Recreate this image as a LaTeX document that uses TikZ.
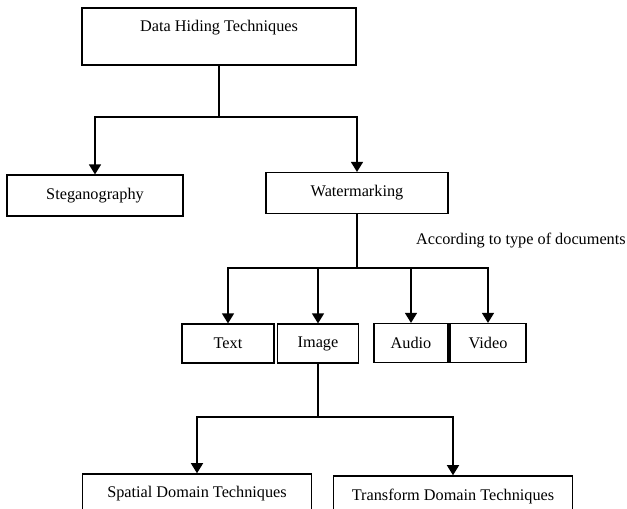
\documentclass[tikz,border=0pt]{standalone}
\usepackage{fontspec}
\setmainfont{Liberation Serif}
\usetikzlibrary{arrows.meta}
\tikzstyle{arrow} = [line width=0.9pt,-{Triangle[length=6.2pt,width=7.4pt]}]
\tikzstyle{wire} = [line width=0.9pt]
\tikzstyle{mainbox} = [rectangle, draw=black, line width=0.9pt, minimum width=168.5pt, minimum height=35.1pt, text depth=13pt, inner sep=0pt]
\tikzstyle{classbox} = [rectangle, draw=black, line width=0.9pt, minimum height=25pt, inner sep=0pt]
\tikzstyle{docbox} = [rectangle, draw=black, line width=0.9pt, minimum height=23.8pt, inner sep=0pt]
\tikzstyle{domainbox} = [rectangle, draw=black, line width=0.9pt, minimum height=24.6pt, inner sep=0pt]

\begin{document}
\begin{tikzpicture}[x=0.615pt, y=-0.615pt, font=\fontsize{10}{12}\selectfont]
		\clip (0,0) rectangle (627,509);
		\node (dhtq) [mainbox] at (219,36.5) {Data Hiding Techniques};
		\node (stg) [classbox, minimum width=108.2pt] at (95,195.5) {Steganography};
		\node (wmk) [classbox, minimum width=111.9pt] at (357,193) {Watermarking};
		\node (txt) [docbox, minimum width=56.6pt] at (228,343.5) {Text};
		\node (img) [docbox, minimum width=49.8pt] at (318,343.5) {Image};
		\node (aud) [docbox, minimum width=45.5pt] at (411,343) {Audio};
		\node (vid) [docbox, minimum width=46.7pt] at (488,343) {Video};
		\node (spd) [domainbox, minimum width=140.8pt] at (197,494) {Spatial Domain Techniques};
		\node (trd) [domainbox, minimum width=147pt] at (453,496) {Transform Domain Techniques};
		\node (doctype) [anchor=east, inner sep=0pt] at (626,241) {According to type of documents};
		% branch points
		\coordinate (jdht) at (219,117);
		\coordinate (jwmk) at (357,268);
		\coordinate (jimg) at (318,417);
		\draw [wire] (dhtq.south) -- (jdht);
		\draw [arrow] (jdht) -| (stg);
		\draw [arrow] (jdht) -| (wmk);
		\draw [wire] (wmk.south) -- (jwmk);
		\draw [arrow] (jwmk) -| (txt);
		\draw [arrow] (jwmk) -| (img);
		\draw [arrow] (jwmk) -| (aud);
		\draw [arrow] (jwmk) -| (vid);
		\draw [wire] (img.south) -- (jimg);
		\draw [arrow] (jimg) -| (spd);
		\draw [arrow] (jimg) -| (trd);
	\end{tikzpicture}
\end{document}
